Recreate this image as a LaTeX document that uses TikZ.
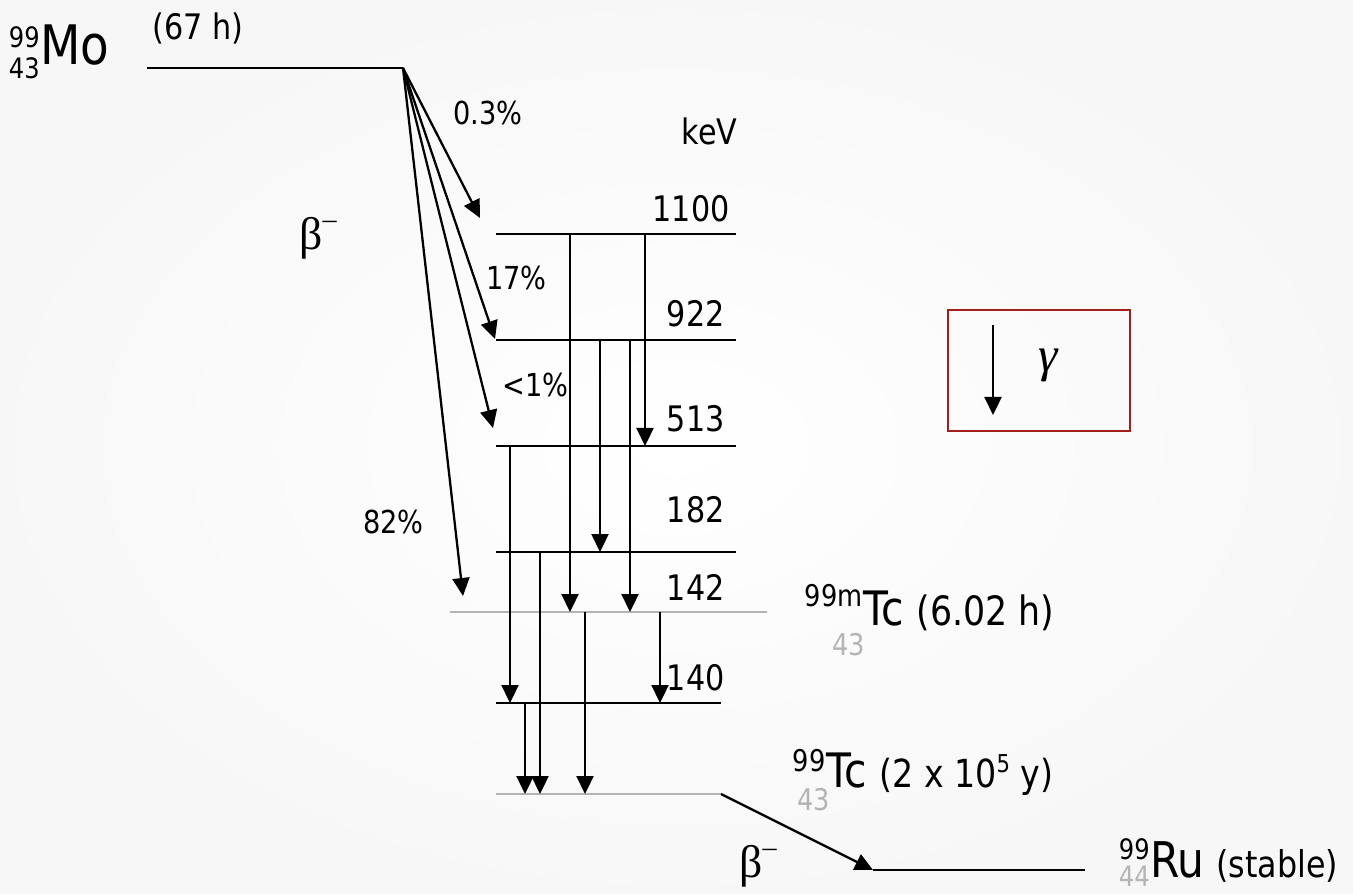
\documentclass[tikz,border=0pt]{standalone}
\usepackage{fontspec}
\setmainfont{DejaVu Sans}[FakeStretch=0.86]
\newfontfamily\greekfont{Liberation Serif}
\usetikzlibrary{arrows.meta,positioning}
\definecolor{boxred}{RGB}{165,30,30}
\definecolor{lightgrey}{RGB}{180,180,180}
\newcommand{\fs}[1]{\fontsize{#1}{#1}\selectfont}
\tikzstyle{level} = [line width=1.3pt]
\tikzstyle{tclevel} = [line width=1.3pt, draw=lightgrey]
\tikzstyle{gam} = [line width=1.3pt, -{Triangle[length=0.36cm,width=0.34cm]}]
\tikzstyle{energy} = [inner sep=0pt, anchor=base east, font=\fs{20pt}]
\tikzstyle{pct} = [inner sep=0pt, anchor=base west, font=\fs{18pt}]
\tikzstyle{nuclide} = [inner sep=0pt, anchor=base west]
\tikzstyle{sup} = [inner sep=0pt, font=\fs{17pt}]
\tikzstyle{zlabel} = [inner sep=0pt, anchor=base west, text=lightgrey, font=\fs{17pt}]
\tikzstyle{greek} = [inner sep=0pt, font=\greekfont\fs{26pt}]

\begin{document}
\begin{tikzpicture}
\shade[shading=radial, inner color=white, outer color=black!3] (0,0) rectangle (27.06,-17.88);
\useasboundingbox (0,0) rectangle (27.06,-17.88);

\coordinate (mo) at (2.94,-1.36);
\coordinate (mo-r) at (8.06,-1.36);
\draw[level] (mo) -- (mo-r);
\foreach \e/\yy in {1100/4.68,922/6.80,513/8.92,182/11.04}{
  \coordinate (lv\e) at (9.92,-\yy);
  \coordinate (lv\e-r) at (14.72,-\yy);
  \draw[level] (lv\e) -- (lv\e-r);
}
\coordinate (lv142) at (9.00,-12.24);
\coordinate (lv142-r) at (15.34,-12.24);
\coordinate (lv140) at (9.92,-14.06);
\coordinate (lv140-r) at (14.42,-14.06);
\coordinate (lvg) at (9.92,-15.88);
\coordinate (lvg-r) at (14.42,-15.88);
\coordinate (ru) at (17.46,-17.40);
\coordinate (ru-r) at (21.70,-17.40);
\draw[tclevel] (lv142) -- (lv142-r);
\draw[level] (lv140) -- (lv140-r);
\draw[tclevel] (lvg) -- (lvg-r);
\draw[level] (ru) -- (ru-r);

\coordinate (b1) at (9.60,-4.36);
\coordinate (b2) at (9.90,-6.78);
\coordinate (b3) at (9.86,-8.56);
\coordinate (b4) at (9.26,-11.92);
\foreach \t in {b1,b2,b3,b4}
  \draw[gam] (mo-r) -- (\t);
\draw[gam] (lvg-r) -- (ru);

\foreach \x/\a/\b in {11.4/1100/142, 12.9/1100/513, 12.0/922/182, 12.6/922/142,
  10.2/513/140, 10.8/182/g, 10.5/140/g, 11.7/142/g, 13.2/142/140}
  \draw[gam] (\x,0 |- lv\a) -- (\x,0 |- lv\b);

\node[energy] (kev) at (14.76,-2.90) {keV};
\node[energy] (e1100) at (14.60,-4.44) {1100};
\node[energy] (e922) at (14.50,-6.54) {922};
\node[energy] (e513) at (14.50,-8.64) {513};
\node[energy] (e182) at (14.50,-10.44) {182};
\node[energy] (e142) at (14.50,-12.00) {142};
\node[energy] (e140) at (14.50,-13.80) {140};

\node[pct] (p03) at (9.06,-2.50) {0.3\%};
\node[pct] (p17) at (9.72,-5.80) {17\%};
\node[pct] (p1) at (10.04,-7.94) {<1\%};
\node[pct] (p82) at (7.26,-10.66) {82\%};

\node[greek] (beta1) at (6.36,-4.76) {β\raisebox{0.45em}{\fs{16pt}–}};
\node[greek] (beta2) at (15.16,-17.32) {β\raisebox{0.45em}{\fs{16pt}–}};

\node[nuclide, font=\fs{31pt}] (mosym) at (0.80,-1.30) {Mo};
\node[sup, font=\fs{16pt}, above left=0.34cm and 0pt of mosym.base west] (moa) {99};
\node[sup, font=\fs{16pt}, left=0pt of mosym.base west, anchor=base east, yshift=-0.27cm] (moz) {43};
\node[nuclide, font=\fs{20pt}] (mohalf) at (3.04,-0.80) {(67 h)};

\node[nuclide, font=\fs{27pt}] (tcmsym) at (17.26,-12.50) {Tc};
\node[sup, above left=0.36cm and 0pt of tcmsym.base west] (tcma) {99m};
\node[nuclide, font=\fs{23pt}, right=0.24cm of tcmsym.base east, anchor=base west] (tcmhalf) {(6.02 h)};
\node[zlabel] (tcmz) at (16.64,-13.10) {43};

\node[nuclide, font=\fs{27pt}] (tcsym) at (16.52,-15.74) {Tc};
\node[sup, above left=0.30cm and 0pt of tcsym.base west] (tca) {99};
\node[nuclide, font=\fs{22pt}, right=0.24cm of tcsym.base east, anchor=base west] (tchalf)
  {(2 x 10\raisebox{8pt}{\fs{14pt}5} y)};
\node[zlabel] (tcz) at (15.94,-16.20) {43};

\node[nuclide, font=\fs{28pt}] (rusym) at (23.00,-17.54) {Ru};
\node[sup, font=\fs{16pt}, above left=0.34cm and 0pt of rusym.base west] (rua) {99};
\node[zlabel, font=\fs{16pt}, left=0pt of rusym.base west, anchor=base east, yshift=-0.18cm] (ruz) {44};
\node[nuclide, font=\fs{21pt}, right=0.22cm of rusym.base east, anchor=base west] (ruhalf) {(stable)};

\node[draw=boxred, line width=1pt, minimum width=3.64cm, minimum height=2.42cm] (legend) at (20.78,-7.41) {};
\coordinate (lg-top) at (19.86,-6.50);
\coordinate (lg-bot) at (19.86,-8.30);
\draw[gam] (lg-top) -- (lg-bot);
\node[greek, font=\greekfont\itshape\fs{28pt}] (gamma) at (20.96,-7.30) {γ};
\end{tikzpicture}
\end{document}
